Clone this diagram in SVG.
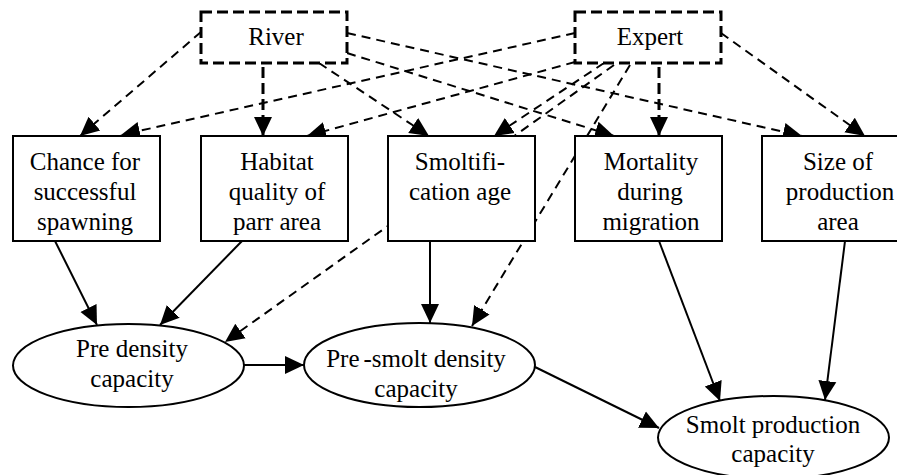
<svg xmlns="http://www.w3.org/2000/svg" width="897" height="475" viewBox="0 0 897 475">
<style>
text{font-family:"Liberation Serif","Times New Roman",serif;font-size:25px;fill:#000;text-anchor:middle}
.box{fill:#fff;stroke:#000;stroke-width:2}
.dbox{fill:#fff;stroke:#000;stroke-width:3;stroke-dasharray:11 5}
.ell{fill:#fff;stroke:#000;stroke-width:2}
.e{fill:none;stroke:#000;stroke-width:2;marker-end:url(#ah)}
.d{fill:none;stroke:#000;stroke-width:2;stroke-dasharray:9 6;marker-end:url(#ah)}
.dv{fill:none;stroke:#000;stroke-width:3;stroke-dasharray:11 5;marker-end:url(#ah)}
</style>
<defs>
<marker id="ah" markerUnits="userSpaceOnUse" markerWidth="20" markerHeight="20" refX="19" refY="9" orient="auto" viewBox="0 0 20 18">
<path d="M0,0 L19,9 L0,18 z" fill="#000"/>
</marker>
</defs>
<rect width="897" height="475" fill="#fff"/>
<g id="connectors">
<line class="d" x1="201" y1="32" x2="80" y2="136"/>
<line class="dv" x1="263" y1="67" x2="263" y2="136"/>
<line class="d" x1="319" y1="63" x2="429" y2="136"/>
<line class="d" x1="347" y1="53" x2="614" y2="136"/>
<line class="d" x1="347" y1="33" x2="802" y2="136"/>
<line class="d" x1="575" y1="33" x2="121" y2="135"/>
<line class="d" x1="575" y1="62" x2="307" y2="136"/>
<line class="d" x1="604" y1="63" x2="494" y2="136"/>
<line class="d" x1="614" y1="65" x2="225" y2="342"/>
<line class="d" x1="630" y1="65" x2="472" y2="326"/>
<line class="dv" x1="659" y1="67" x2="659" y2="136"/>
<line class="d" x1="721" y1="33" x2="865" y2="136"/>
<line class="e" x1="55" y1="241" x2="97" y2="325"/>
<line class="e" x1="242" y1="241" x2="160" y2="325"/>
<line class="e" x1="430" y1="241" x2="430" y2="323"/>
<line class="e" x1="244" y1="365" x2="304" y2="365"/>
<line class="e" x1="535" y1="367" x2="659" y2="428"/>
<line class="e" x1="659" y1="241" x2="720" y2="401"/>
<line class="e" x1="845" y1="241" x2="825" y2="400"/>
</g>
<g id="river">
<rect class="dbox" x="201" y="12" width="146" height="51"/>
<text x="276" y="45">River</text>
</g>
<g id="expert">
<rect class="dbox" x="575" y="12" width="146" height="51"/>
<text x="650" y="45">Expert</text>
</g>
<g id="chance">
<rect class="box" x="13" y="136" width="147" height="105"/>
<text x="85" y="170">Chance for</text>
<text x="85" y="200">successful</text>
<text x="85" y="230">spawning</text>
</g>
<g id="habitat">
<rect class="box" x="201" y="136" width="147" height="105"/>
<text x="277" y="170">Habitat</text>
<text x="277" y="200">quality of</text>
<text x="277" y="230">parr area</text>
</g>
<g id="smoltification">
<rect class="box" x="388" y="136" width="147" height="105"/>
<text x="460" y="170">Smoltifi-</text>
<text x="460" y="200">cation age</text>
</g>
<g id="mortality">
<rect class="box" x="575" y="136" width="147" height="105"/>
<text x="651" y="170">Mortality</text>
<text x="650" y="200">during</text>
<text x="651" y="230">migration</text>
</g>
<g id="size">
<rect class="box" x="762" y="136" width="147" height="105"/>
<text x="838" y="170">Size of</text>
<text x="840" y="200">production</text>
<text x="838" y="230">area</text>
</g>
<g id="predensity">
<ellipse class="ell" cx="128.5" cy="365.5" rx="115.5" ry="41.5"/>
<text x="132" y="357">Pre density</text>
<text x="132" y="387">capacity</text>
</g>
<g id="presmolt">
<ellipse class="ell" cx="419.5" cy="365" rx="115.5" ry="42"/>
<text x="416" y="367">Pre<tspan dx="4">-smolt density</tspan></text>
<text x="416" y="397">capacity</text>
</g>
<g id="smoltprod">
<ellipse class="ell" cx="773.5" cy="437.5" rx="115.5" ry="41.5"/>
<text x="773" y="433">Smolt production</text>
<text x="773" y="462">capacity</text>
</g>
</svg>
